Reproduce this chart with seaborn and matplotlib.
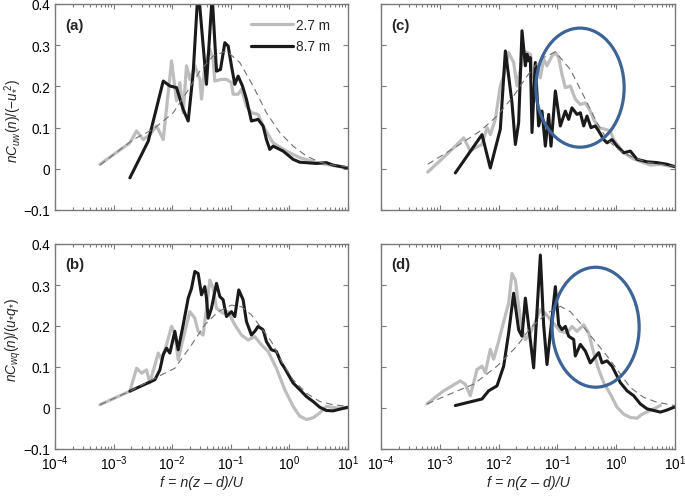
import numpy as np
import pandas as pd
import matplotlib
matplotlib.use("Agg")
import matplotlib.pyplot as plt
import seaborn as sns
from matplotlib.patches import Ellipse
from matplotlib.lines import Line2D

# ---------------- data (x given as log10 of f = n(z-d)/U) ----------------
# Panel (a): nC_uw
a_gray_lf = [-3.233, -2.722, -2.608, -2.494, -2.381, -2.267, -2.153, -2.011, -1.926, -1.869,
             -1.812, -1.756, -1.699, -1.614, -1.528, -1.500, -1.443, -1.358, -1.301, -1.273,
             -1.159, -1.074, -0.989, -0.960, -0.875, -0.818, -0.733, -0.648, -0.534, -0.449,
             -0.278, -0.051, 0.176, 0.460, 0.744, 1.000]
a_gray_v = [0.011, 0.063, 0.092, 0.071, 0.083, 0.104, 0.071, 0.262, 0.165, 0.209,
            0.136, 0.250, 0.217, 0.250, 0.217, 0.169, 0.250, 0.290, 0.266, 0.213,
            0.217, 0.217, 0.209, 0.181, 0.181, 0.193, 0.152, 0.136, 0.132, 0.104,
            0.063, 0.043, 0.027, 0.015, 0.008, 0.002]
a_black_lf = [-2.722, -2.409, -2.153, -2.040, -1.926, -1.812, -1.727, -1.642, -1.557, -1.415,
              -1.318, -1.244, -1.176, -1.102, -1.045, -0.989, -0.932, -0.875, -0.801, -0.733,
              -0.648, -0.534, -0.449, -0.392, -0.335, -0.278, -0.108, 0.063, 0.176, 0.460,
              0.631, 0.744, 1.000]
a_black_v = [-0.022, 0.067, 0.213, 0.201, 0.197, 0.144, 0.116, 0.233, 0.440, 0.205,
             0.420, 0.237, 0.241, 0.306, 0.298, 0.250, 0.205, 0.225, 0.201, 0.169,
             0.116, 0.120, 0.104, 0.071, 0.047, 0.055, 0.043, 0.023, 0.016, 0.013,
             0.015, 0.009, 0.002]
a_dash_lf = [-3.233, -2.665, -2.324, -1.983, -1.756, -1.528, -1.301, -1.074, -0.847, -0.619,
             -0.392, -0.165, 0.063, 0.290, 0.517, 0.744, 1.000]
a_dash_v = [0.009, 0.071, 0.096, 0.136, 0.185, 0.237, 0.274, 0.286, 0.258, 0.201,
            0.136, 0.088, 0.055, 0.031, 0.016, 0.009, 0.005]

# Panel (b): nC_wq
b_gray_lf = [-3.233, -2.722, -2.608, -2.523, -2.438, -2.381, -2.295, -2.239, -2.182, -2.097,
             -2.011, -1.955, -1.898, -1.812, -1.699, -1.614, -1.557, -1.472, -1.415, -1.358,
             -1.301, -1.244, -1.131, -1.045, -0.932, -0.818, -0.705, -0.591, -0.477, -0.364,
             -0.222, -0.080, 0.063, 0.176, 0.290, 0.403, 0.517, 0.631, 0.801, 1.000]
b_gray_v = [0.008, 0.041, 0.097, 0.085, 0.093, 0.061, 0.105, 0.134, 0.118, 0.154,
            0.199, 0.182, 0.118, 0.170, 0.235, 0.219, 0.187, 0.178, 0.243, 0.312,
            0.292, 0.243, 0.231, 0.235, 0.203, 0.178, 0.166, 0.174, 0.154, 0.138,
            0.097, 0.045, 0.004, -0.020, -0.028, -0.024, -0.012, 0.004, 0.000, 0.000]
b_black_lf = [-2.722, -2.295, -2.210, -2.153, -2.097, -2.040, -1.955, -1.898, -1.812, -1.727,
              -1.670, -1.614, -1.557, -1.500, -1.443, -1.415, -1.386, -1.330, -1.244, -1.188,
              -1.131, -1.074, -0.989, -0.932, -0.864, -0.790, -0.733, -0.648, -0.591, -0.534,
              -0.449, -0.392, -0.307, -0.222, -0.136, -0.080, 0.063, 0.176, 0.290, 0.403,
              0.517, 0.631, 0.744, 0.858, 1.000]
b_black_v = [0.041, 0.069, 0.093, 0.130, 0.146, 0.134, 0.187, 0.142, 0.203, 0.268,
             0.292, 0.333, 0.328, 0.276, 0.296, 0.268, 0.219, 0.243, 0.304, 0.272,
             0.264, 0.223, 0.235, 0.223, 0.288, 0.264, 0.211, 0.178, 0.187, 0.199,
             0.191, 0.162, 0.142, 0.138, 0.109, 0.097, 0.061, 0.045, 0.028, 0.016,
             0.002, -0.006, -0.007, -0.003, 0.002]
b_dash_lf = [-3.233, -2.722, -2.182, -1.955, -1.670, -1.443, -1.216, -0.989, -0.818, -0.648,
             -0.477, -0.307, -0.136, 0.063, 0.290, 0.517, 0.744, 1.000]
b_dash_v = [0.008, 0.041, 0.081, 0.097, 0.154, 0.203, 0.235, 0.251, 0.247, 0.227,
            0.195, 0.162, 0.114, 0.069, 0.036, 0.016, 0.008, 0.004]

# Panel (c): nC_uw
c_gray_lf = [-3.206, -2.963, -2.736, -2.594, -2.481, -2.396, -2.282, -2.197, -2.141, -2.056,
             -1.971, -1.914, -1.829, -1.744, -1.687, -1.630, -1.574, -1.460, -1.404, -1.347,
             -1.290, -1.234, -1.177, -1.092, -1.035, -0.978, -0.922, -0.865, -0.780, -0.695,
             -0.610, -0.525, -0.440, -0.383, -0.298, -0.185, -0.100, -0.043, 0.127, 0.297,
             0.580, 0.751, 0.921, 1.000]
c_gray_v = [-0.008, 0.024, 0.055, 0.075, 0.043, 0.051, 0.059, 0.100, 0.083, 0.120,
            0.201, 0.225, 0.282, 0.258, 0.201, 0.241, 0.286, 0.278, 0.221, 0.250,
            0.221, 0.266, 0.250, 0.274, 0.282, 0.270, 0.229, 0.197, 0.201, 0.169,
            0.156, 0.160, 0.140, 0.120, 0.100, 0.096, 0.092, 0.071, 0.039, 0.024,
            0.009, 0.011, 0.006, 0.006]
c_black_lf = [-2.736, -2.282, -2.141, -1.971, -1.885, -1.829, -1.772, -1.715, -1.659, -1.602,
              -1.545, -1.517, -1.489, -1.460, -1.432, -1.375, -1.319, -1.262, -1.205, -1.149,
              -1.109, -1.035, -0.950, -0.865, -0.808, -0.752, -0.667, -0.610, -0.553, -0.497,
              -0.429, -0.355, -0.298, -0.213, -0.156, -0.071, 0.014, 0.127, 0.240, 0.354,
              0.524, 0.694, 0.864, 1.000]
c_black_v = [-0.010, 0.083, 0.002, 0.096, 0.286, 0.225, 0.160, 0.059, 0.112, 0.335,
             0.250, 0.278, 0.262, 0.270, 0.088, 0.258, 0.104, 0.140, 0.055, 0.132,
             0.055, 0.189, 0.104, 0.140, 0.120, 0.148, 0.132, 0.136, 0.104, 0.128,
             0.100, 0.104, 0.092, 0.071, 0.063, 0.071, 0.055, 0.039, 0.043, 0.023,
             0.017, 0.015, 0.011, 0.005]
c_dash_lf = [-3.206, -2.707, -2.311, -2.027, -1.744, -1.517, -1.290, -1.035, -0.780, -0.553,
             -0.327, -0.156, 0.070, 0.297, 0.524, 0.751, 1.000]
c_dash_v = [0.011, 0.055, 0.092, 0.128, 0.177, 0.225, 0.266, 0.284, 0.241, 0.177,
            0.112, 0.071, 0.043, 0.027, 0.016, 0.011, 0.006]

# Panel (d): nC_wq
d_gray_lf = [-3.218, -2.934, -2.651, -2.566, -2.481, -2.367, -2.282, -2.226, -2.141, -2.084,
             -1.999, -1.942, -1.829, -1.772, -1.715, -1.659, -1.602, -1.545, -1.460, -1.375,
             -1.290, -1.205, -1.092, -0.950, -0.837, -0.752, -0.667, -0.553, -0.468, -0.383,
             -0.298, -0.213, -0.100, 0.014, 0.127, 0.240, 0.354, 0.439, 0.580, 0.694, 0.751]
d_gray_v = [0.010, 0.042, 0.066, 0.058, 0.030, 0.094, 0.102, 0.086, 0.143, 0.119,
            0.163, 0.195, 0.256, 0.328, 0.312, 0.248, 0.191, 0.167, 0.183, 0.211,
            0.240, 0.231, 0.211, 0.187, 0.183, 0.199, 0.187, 0.203, 0.183, 0.135,
            0.094, 0.062, 0.034, 0.002, -0.015, -0.023, -0.025, -0.015, -0.006, 0.002, 0.006]
d_black_lf = [-2.736, -2.282, -2.169, -2.027, -1.914, -1.829, -1.744, -1.659, -1.602, -1.545,
              -1.404, -1.290, -1.234, -1.177, -1.035, -0.978, -0.922, -0.865, -0.808, -0.723,
              -0.695, -0.610, -0.525, -0.440, -0.298, -0.241, -0.156, -0.071, 0.014, 0.070,
              0.184, 0.297, 0.410, 0.524, 0.637, 0.751, 0.864, 1.000]
d_black_v = [0.006, 0.022, 0.042, 0.054, 0.102, 0.183, 0.280, 0.191, 0.175, 0.268,
             0.098, 0.373, 0.203, 0.106, 0.296, 0.203, 0.191, 0.199, 0.175, 0.167,
             0.127, 0.155, 0.139, 0.110, 0.135, 0.110, 0.115, 0.102, 0.078, 0.062,
             0.042, 0.030, 0.010, -0.002, -0.006, -0.010, -0.005, 0.003]
d_dash_lf = [-3.218, -2.764, -2.424, -2.027, -1.687, -1.460, -1.177, -0.950, -0.780, -0.610,
             -0.383, -0.156, 0.014, 0.240, 0.467, 0.694, 1.000]
d_dash_v = [0.010, 0.038, 0.058, 0.102, 0.151, 0.195, 0.231, 0.248, 0.235, 0.207,
            0.167, 0.127, 0.094, 0.050, 0.026, 0.014, 0.006]

series_labels = ["2.7 m", "8.7 m"]
panel_letters = ["(a)", "(b)", "(c)", "(d)"]
ytick_vals = [-0.1, 0, 0.1, 0.2, 0.3, 0.4]
ytick_labels = ["\u22120.1", "0", "0.1", "0.2", "0.3", "0.4"]
ylabel_uw = r"$nC_{uw}(n)/(\mathit{-u}_{*}^{\,2})$"
ylabel_wq = r"$nC_{wq}(n)/(u_{*}q_{*})$"
xlabel_txt = "f = n(z \u2013 d)/U"

panels = {
    "a": (a_gray_lf, a_gray_v, a_black_lf, a_black_v, a_dash_lf, a_dash_v),
    "b": (b_gray_lf, b_gray_v, b_black_lf, b_black_v, b_dash_lf, b_dash_v),
    "c": (c_gray_lf, c_gray_v, c_black_lf, c_black_v, c_dash_lf, c_dash_v),
    "d": (d_gray_lf, d_gray_v, d_black_lf, d_black_v, d_dash_lf, d_dash_v),
}

# ---------------- style ----------------
sns.set_style("ticks")
plt.rcParams["font.family"] = ["Liberation Sans", "DejaVu Sans"]
plt.rcParams["mathtext.fontset"] = "custom"
plt.rcParams["mathtext.rm"] = "Liberation Sans"
plt.rcParams["mathtext.it"] = "Liberation Sans:italic"
plt.rcParams["mathtext.bf"] = "Liberation Sans:bold"

GRAY = "#bdbdbd"
BLACK = "#1a1a1a"
DASH = "#707070"
SPINE = "#7a7a7a"
ELL = "#3d6496"
FS = 9.8

W, H = 685, 502
fig = plt.figure(figsize=(W / 100, H / 100), dpi=100)

boxes = {  # left, top, right, bottom in pixels
    "a": (55, 5, 348, 211),
    "b": (55, 245, 348, 450),
    "c": (381, 5, 675, 211),
    "d": (381, 245, 675, 450),
}
ellipses = {"c": (0.677, 0.594, 0.300, 0.578), "d": (0.730, 0.594, 0.296, 0.585)}

axes = {}
for i, key in enumerate(["a", "b", "c", "d"]):
    l, t, r, b = boxes[key]
    ax = fig.add_axes([l / W, 1 - b / H, (r - l) / W, (b - t) / H])
    axes[key] = ax
    g_lf, g_v, k_lf, k_v, d_lf, d_v = panels[key]
    sns.lineplot(x=10 ** np.array(g_lf), y=g_v, ax=ax, color=GRAY, lw=2.3,
                 sort=False, estimator=None)
    sns.lineplot(x=10 ** np.array(k_lf), y=k_v, ax=ax, color=BLACK, lw=2.2,
                 sort=False, estimator=None)
    sns.lineplot(x=10 ** np.array(d_lf), y=d_v, ax=ax, color=DASH, lw=0.8,
                 sort=False, estimator=None, linestyle=(0, (6, 4)))
    ax.set_xscale("log")
    ax.set_xlim(1e-4, 1e1)
    ax.set_ylim(-0.1, 0.4)
    ax.set_xticks([1e-4, 1e-3, 1e-2, 1e-1, 1e0, 1e1])
    ax.set_yticks(ytick_vals)
    ax.tick_params(which="both", direction="in", top=True, right=True,
                   color=SPINE, labelsize=FS, labelcolor="black", width=0.8)
    ax.tick_params(which="major", length=3.5)
    ax.tick_params(which="minor", length=2)
    for s in ax.spines.values():
        s.set_color(SPINE)
        s.set_linewidth(1.0)
    if key in ("a", "b"):
        ax.set_yticklabels(ytick_labels)
    else:
        ax.set_yticklabels([])
    if key in ("a", "c"):
        ax.set_xticklabels([])
        ax.set_xlabel("")
    else:
        ax.set_xlabel(xlabel_txt, fontsize=FS + 0.5, style="italic", labelpad=2)
    ax.set_ylabel("")
    ax.text(0.035, 0.90, panel_letters[i], transform=ax.transAxes, fontsize=FS + 1,
            fontweight="bold", ha="left", va="center")
    if key in ellipses:
        cx, cy, ew, eh = ellipses[key]
        ax.add_patch(Ellipse((cx, cy), ew, eh, transform=ax.transAxes, fill=False,
                             ec=ELL, lw=2.3, zorder=5))

axes["a"].set_ylabel(ylabel_uw, fontsize=FS)
axes["a"].yaxis.set_label_coords(-0.108, 0.437)
axes["b"].set_ylabel(ylabel_wq, fontsize=FS)
axes["b"].yaxis.set_label_coords(-0.108, 0.537)

handles = [Line2D([], [], color=GRAY, lw=2.3), Line2D([], [], color=BLACK, lw=2.3)]
axes["a"].legend(handles, series_labels, loc="upper right", frameon=False, fontsize=FS,
                 handlelength=3.1, handletextpad=0.2, borderaxespad=0.2,
                 labelspacing=0.57, bbox_to_anchor=(0.966, 0.974))

fig.savefig("out.png", dpi=100)
